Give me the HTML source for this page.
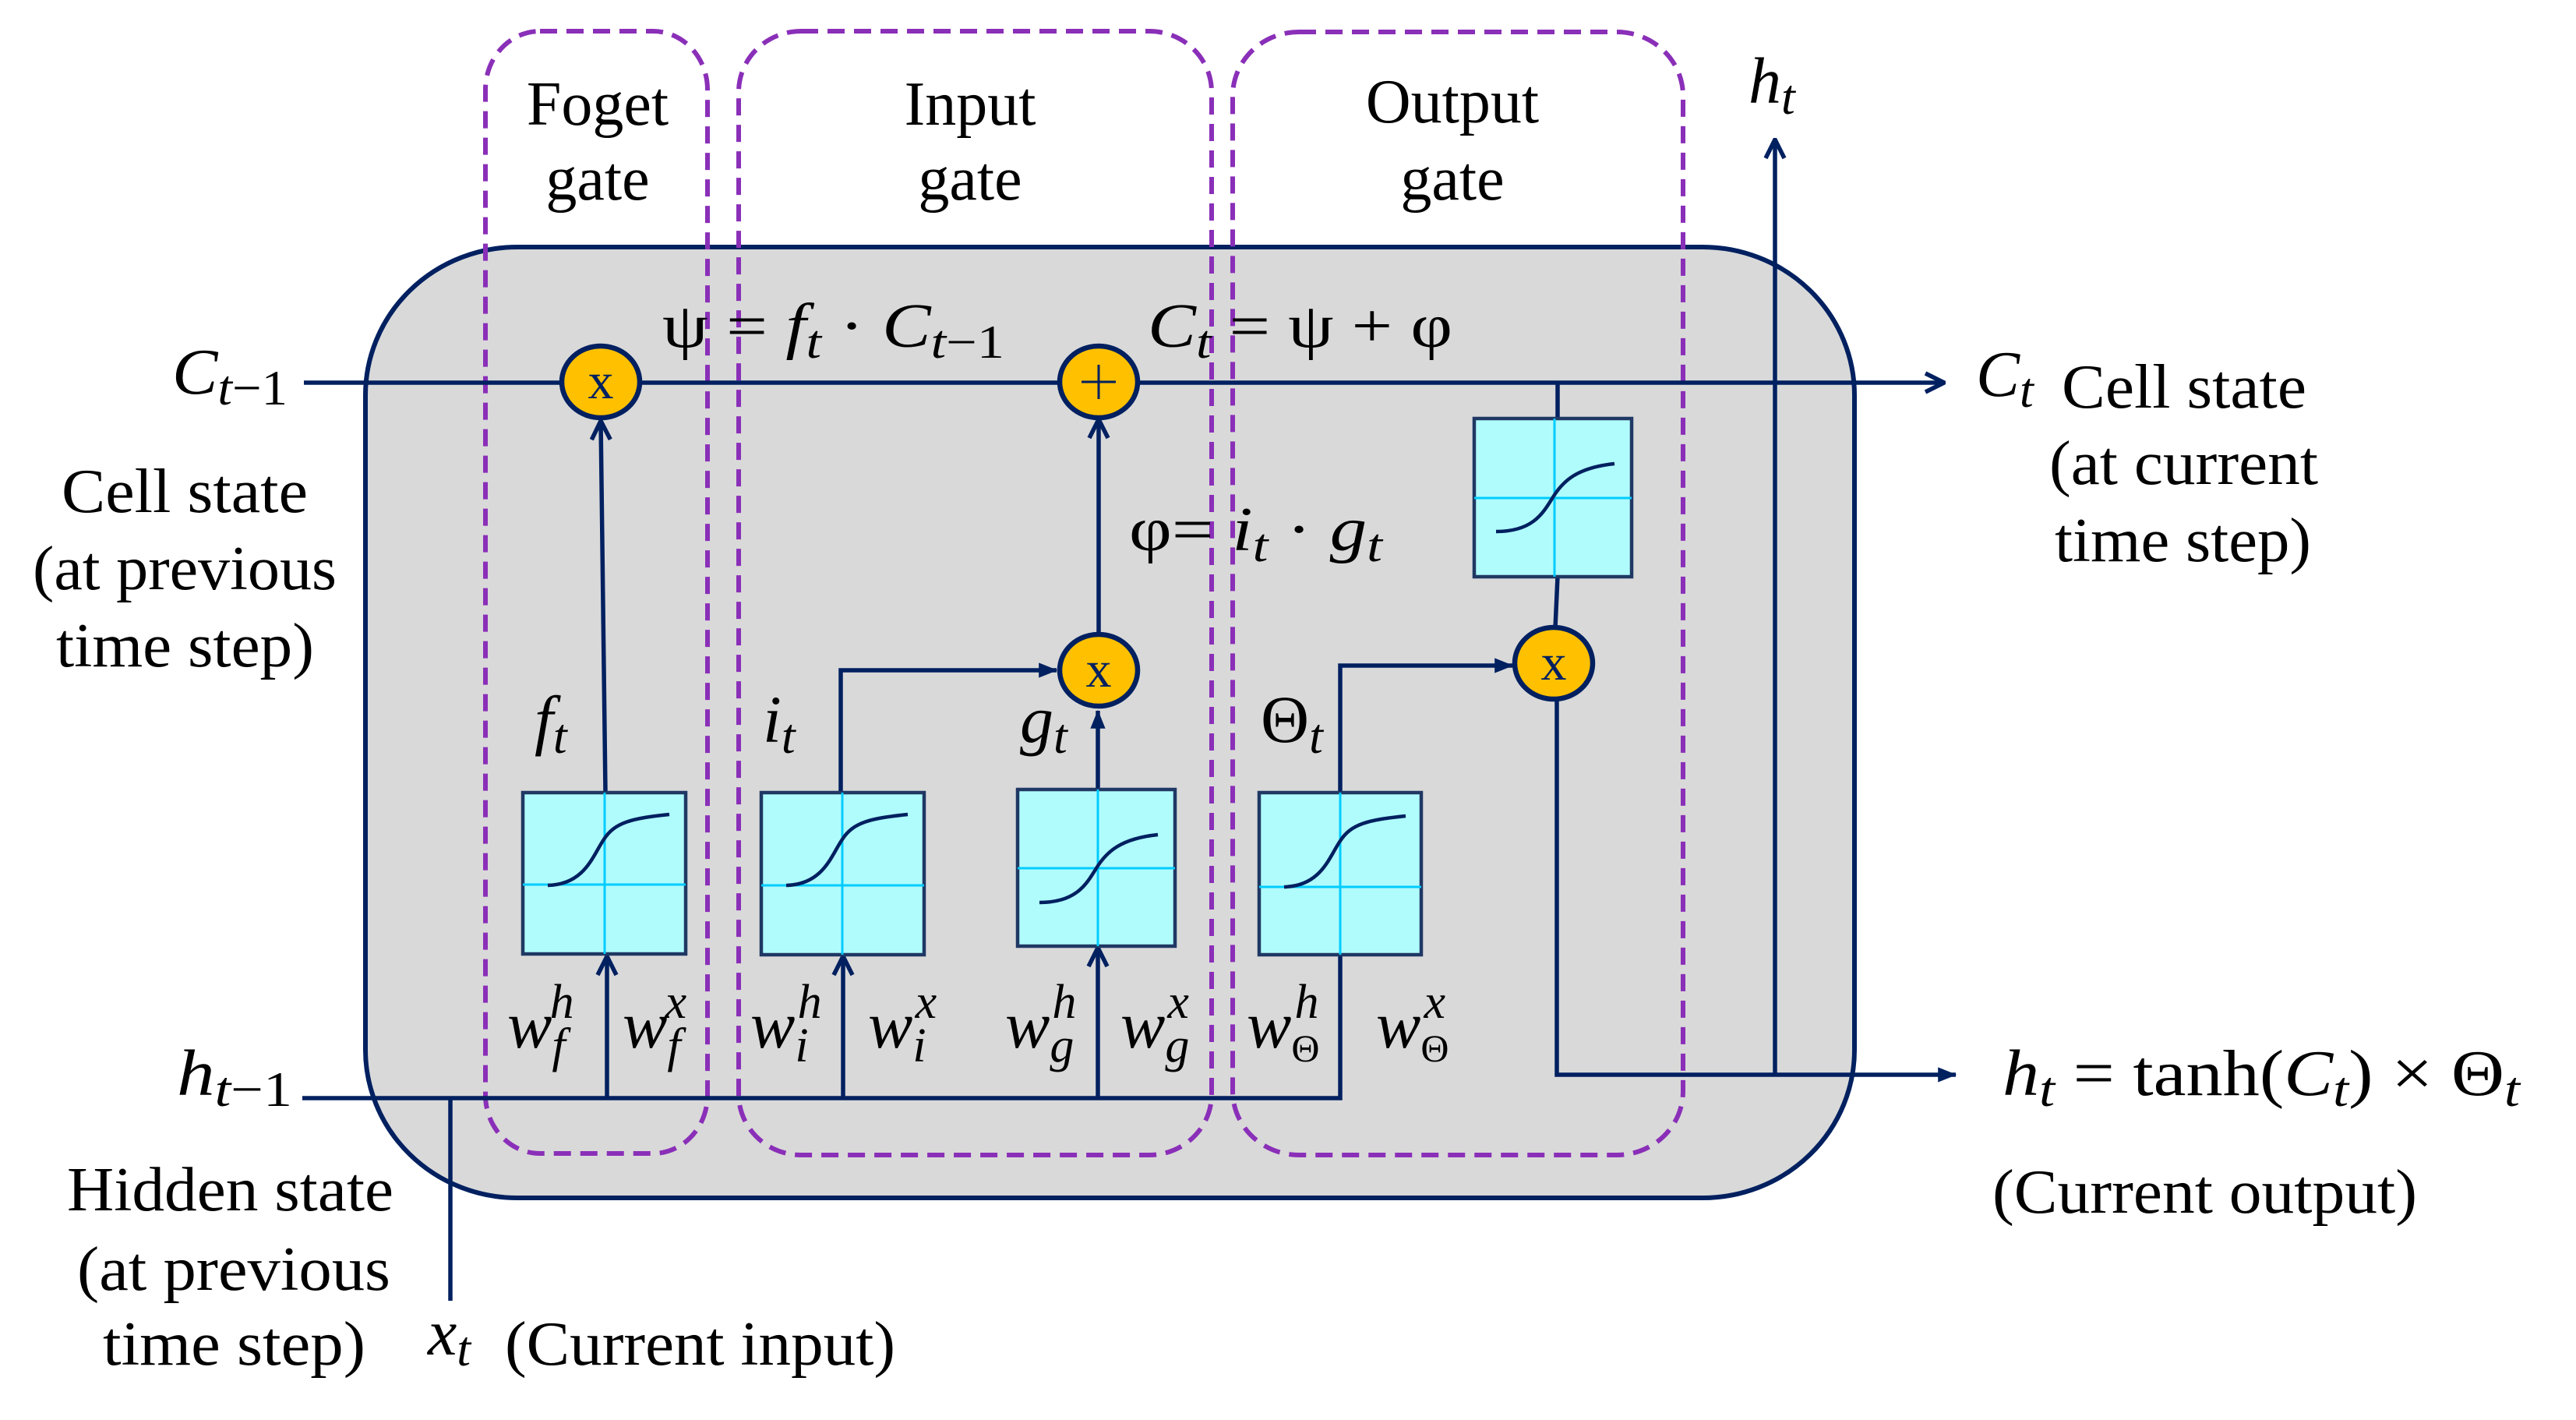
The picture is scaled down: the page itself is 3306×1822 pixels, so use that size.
<!DOCTYPE html>
<html><head><meta charset="utf-8"><style>
html,body{margin:0;padding:0;background:#fff;}
svg{display:block;}
text{font-family:"Liberation Serif",serif;fill:#000;}
.i{font-style:italic;}
</style></head><body>
<svg width="3306" height="1822" viewBox="0 0 3306 1822" xmlns="http://www.w3.org/2000/svg">
<defs>
<marker id="fill" viewBox="0 0 20 20" refX="19" refY="10" markerWidth="24" markerHeight="24" markerUnits="userSpaceOnUse" orient="auto"><path d="M0,2 L20,10 L0,18 Z" fill="#002060"/></marker>
<marker id="open2" viewBox="0 0 30 30" refX="28" refY="15" markerWidth="30" markerHeight="30" markerUnits="userSpaceOnUse" orient="auto"><path d="M4,3 L28,15 L4,27" fill="none" stroke="#002060" stroke-width="5.5"/></marker>
</defs>

<rect x="469" y="317" width="1911" height="1220" rx="195" ry="190" fill="#d9d9d9" stroke="#002060" stroke-width="6"/>

<g fill="none" stroke="#8a2fb8" stroke-width="6" stroke-dasharray="22 12">
<rect x="623" y="40" width="285" height="1440" rx="70" ry="75"/>
<rect x="948" y="40" width="607" height="1442" rx="80" ry="78"/>
<rect x="1582" y="41" width="578" height="1441" rx="85" ry="82"/>
</g>

<g fill="none" stroke="#002060" stroke-width="5.5">
<line x1="390" y1="491" x2="2495" y2="491" marker-end="url(#open2)"/>
<polyline points="388,1409 1720,1409 1720,1225"/>
<line x1="578" y1="1409" x2="578" y2="1669"/>
<line x1="779" y1="1409" x2="779" y2="1227" marker-end="url(#open2)"/>
<line x1="1082" y1="1409" x2="1082" y2="1227" marker-end="url(#open2)"/>
<line x1="1409" y1="1409" x2="1409" y2="1216" marker-end="url(#open2)"/>
<line x1="777" y1="1017" x2="771" y2="540" marker-end="url(#open2)"/>
<polyline points="1079,1017 1079,860 1356,860" marker-end="url(#fill)"/>
<line x1="1409" y1="1013" x2="1409" y2="912" marker-end="url(#fill)"/>
<line x1="1410" y1="812" x2="1410" y2="538" marker-end="url(#open2)"/>
<polyline points="1720,1017 1720,854 1941,854" marker-end="url(#fill)"/>
<line x1="1999" y1="491" x2="1999" y2="537"/>
<line x1="1999" y1="740" x2="1996" y2="806"/>
<polyline points="1998,896 1998,1379 2510,1379" marker-end="url(#fill)"/>
<line x1="2278" y1="1379" x2="2278" y2="179" marker-end="url(#open2)"/>
</g>

<g stroke-width="4.5">
<g transform="translate(671,1017)">
<rect width="209" height="207" fill="#b0fcfc" stroke="#1f3864"/>
<line x1="0" y1="118" x2="209" y2="118" stroke="#00ccff" stroke-width="3"/>
<line x1="105" y1="0" x2="105" y2="207" stroke="#00ccff" stroke-width="3"/>
<path d="M32,119 C80,118 90,80 104,60 C118,38 140,33 188,28" fill="none" stroke="#002060"/>
</g>
<g transform="translate(977,1017)">
<rect width="209" height="208" fill="#b0fcfc" stroke="#1f3864"/>
<line x1="0" y1="119" x2="209" y2="119" stroke="#00ccff" stroke-width="3"/>
<line x1="104" y1="0" x2="104" y2="208" stroke="#00ccff" stroke-width="3"/>
<path d="M32,119 C80,118 90,80 104,60 C118,38 140,33 188,28" fill="none" stroke="#002060"/>
</g>
<g transform="translate(1306,1013)">
<rect width="202" height="201" fill="#b0fcfc" stroke="#1f3864"/>
<line x1="0" y1="101" x2="202" y2="101" stroke="#00ccff" stroke-width="3"/>
<line x1="103" y1="0" x2="103" y2="201" stroke="#00ccff" stroke-width="3"/>
<path d="M28,145 C75,145 88,122 101,101 C114,80 132,63 180,58" fill="none" stroke="#002060"/>
</g>
<g transform="translate(1616,1017)">
<rect width="208" height="208" fill="#b0fcfc" stroke="#1f3864"/>
<line x1="0" y1="121" x2="208" y2="121" stroke="#00ccff" stroke-width="3"/>
<line x1="104" y1="0" x2="104" y2="208" stroke="#00ccff" stroke-width="3"/>
<path d="M32,121 C80,120 90,82 104,62 C118,40 140,35 188,30" fill="none" stroke="#002060"/>
</g>
<g transform="translate(1892,537)">
<rect width="202" height="203" fill="#b0fcfc" stroke="#1f3864"/>
<line x1="0" y1="102" x2="202" y2="102" stroke="#00ccff" stroke-width="3"/>
<line x1="103" y1="0" x2="103" y2="203" stroke="#00ccff" stroke-width="3"/>
<path d="M28,145 C75,145 88,122 101,101 C114,80 132,63 180,58" fill="none" stroke="#002060"/>
</g>
</g>

<g fill="#ffc000" stroke="#002060" stroke-width="6.5">
<ellipse cx="771" cy="490" rx="50" ry="46"/>
<ellipse cx="1410" cy="490" rx="50" ry="46"/>
<ellipse cx="1410" cy="860" rx="50" ry="46"/>
<ellipse cx="1994" cy="851" rx="50" ry="46"/>
</g>
<g font-size="66" text-anchor="middle">
<text x="771" y="511" style="fill:#002060">x</text>
<text x="1410" y="881" style="fill:#002060">x</text>
<text x="1994" y="872" style="fill:#002060">x</text>
</g>
<g stroke="#002060" stroke-width="3"><line x1="1388" y1="490" x2="1432" y2="490"/><line x1="1410" y1="468" x2="1410" y2="512"/></g>

<g font-size="80" text-anchor="middle">
<text x="767" y="160">Foget</text><text x="767" y="256">gate</text>
<text x="1245" y="160">Input</text><text x="1245" y="256">gate</text>
<text x="1864" y="157">Output</text><text x="1864" y="256">gate</text>
</g>

<g font-size="80">
<text x="79" y="657" textLength="316" lengthAdjust="spacingAndGlyphs">Cell state</text>
<text x="42" y="756" textLength="390" lengthAdjust="spacingAndGlyphs">(at previous</text>
<text x="72" y="855" textLength="331" lengthAdjust="spacingAndGlyphs">time step)</text>
<text x="86" y="1553" textLength="419" lengthAdjust="spacingAndGlyphs">Hidden state</text>
<text x="99" y="1655" textLength="402" lengthAdjust="spacingAndGlyphs">(at previous</text>
<text x="132" y="1751" textLength="337" lengthAdjust="spacingAndGlyphs">time step)</text>
<text x="648" y="1751" textLength="501" lengthAdjust="spacingAndGlyphs">(Current input)</text>
<text x="2646" y="523" textLength="314" lengthAdjust="spacingAndGlyphs">Cell state</text>
<text x="2630" y="621" textLength="345" lengthAdjust="spacingAndGlyphs">(at current</text>
<text x="2637" y="720" textLength="329" lengthAdjust="spacingAndGlyphs">time step)</text>
<text x="2557" y="1556" textLength="545" lengthAdjust="spacingAndGlyphs">(Current output)</text>
</g>

<g font-size="84">
<text x="221" y="505" textLength="148" lengthAdjust="spacingAndGlyphs"><tspan class="i">C</tspan><tspan font-size="64" dy="14" class="i">t</tspan><tspan font-size="64">−1</tspan></text>
<text x="227" y="1405" textLength="148" lengthAdjust="spacingAndGlyphs"><tspan class="i">h</tspan><tspan font-size="64" dy="14" class="i">t</tspan><tspan font-size="64">−1</tspan></text>
<text x="549" y="1738"><tspan class="i">x</tspan><tspan font-size="64" dy="14" class="i">t</tspan></text>
<text x="2536" y="508"><tspan class="i">C</tspan><tspan font-size="64" dy="14" class="i">t</tspan></text>
<text x="2244" y="132"><tspan class="i">h</tspan><tspan font-size="64" dy="14" class="i">t</tspan></text>
<text x="2570" y="1405" textLength="664" lengthAdjust="spacingAndGlyphs"><tspan class="i">h</tspan><tspan font-size="64" dy="14" class="i">t</tspan><tspan dy="-14"> = tanh(</tspan><tspan class="i">C</tspan><tspan font-size="64" dy="14" class="i">t</tspan><tspan dy="-14">) × Θ</tspan><tspan font-size="64" dy="14" class="i">t</tspan></text>
</g>
<g font-size="80">
<text x="850" y="445" textLength="439" lengthAdjust="spacingAndGlyphs">ψ = <tspan class="i">f</tspan><tspan font-size="60" dy="14" class="i">t</tspan><tspan dy="-14"> · </tspan><tspan class="i">C</tspan><tspan font-size="60" dy="14" class="i">t</tspan><tspan font-size="60">−1</tspan></text>
<text x="1473" y="445" textLength="391" lengthAdjust="spacingAndGlyphs"><tspan class="i">C</tspan><tspan font-size="60" dy="14" class="i">t</tspan><tspan dy="-14"> = ψ + φ</tspan></text>
<text x="1449" y="706" textLength="325" lengthAdjust="spacingAndGlyphs">φ= <tspan class="i">i</tspan><tspan font-size="60" dy="14" class="i">t</tspan><tspan dy="-14"> · </tspan><tspan class="i">g</tspan><tspan font-size="60" dy="14" class="i">t</tspan></text>
<text x="686" y="952" font-size="86"><tspan class="i">f</tspan><tspan font-size="64" dy="14" class="i">t</tspan></text>
<text x="979" y="952" font-size="86"><tspan class="i">i</tspan><tspan font-size="64" dy="14" class="i">t</tspan></text>
<text x="1309" y="952" font-size="86"><tspan class="i">g</tspan><tspan font-size="64" dy="14" class="i">t</tspan></text>
<text x="1618" y="952" font-size="86">Θ<tspan font-size="64" dy="14" class="i">t</tspan></text>
</g>
<g font-size="86">
<text x="651" y="1344"><tspan class="i">w</tspan><tspan font-size="62" dy="18" class="i">f</tspan><tspan font-size="62" dx="-20" dy="-56" class="i">h</tspan></text>
<text x="799" y="1344"><tspan class="i">w</tspan><tspan font-size="62" dy="18" class="i">f</tspan><tspan font-size="62" dx="-20" dy="-56" class="i">x</tspan></text>
<text x="963" y="1344"><tspan class="i">w</tspan><tspan font-size="62" dy="18" class="i">i</tspan><tspan font-size="62" dx="-14" dy="-56" class="i">h</tspan></text>
<text x="1114" y="1344"><tspan class="i">w</tspan><tspan font-size="62" dy="18" class="i">i</tspan><tspan font-size="62" dx="-14" dy="-56" class="i">x</tspan></text>
<text x="1290" y="1344"><tspan class="i">w</tspan><tspan font-size="62" dy="18" class="i">g</tspan><tspan font-size="62" dx="-28" dy="-56" class="i">h</tspan></text>
<text x="1438" y="1344"><tspan class="i">w</tspan><tspan font-size="62" dy="18" class="i">g</tspan><tspan font-size="62" dx="-28" dy="-56" class="i">x</tspan></text>
<text x="1600" y="1344"><tspan class="i">w</tspan><tspan font-size="50" dy="18">Θ</tspan><tspan font-size="62" dx="-32" dy="-56" class="i">h</tspan></text>
<text x="1766" y="1344"><tspan class="i">w</tspan><tspan font-size="50" dy="18">Θ</tspan><tspan font-size="62" dx="-32" dy="-56" class="i">x</tspan></text>
</g>
</svg>
</body></html>
